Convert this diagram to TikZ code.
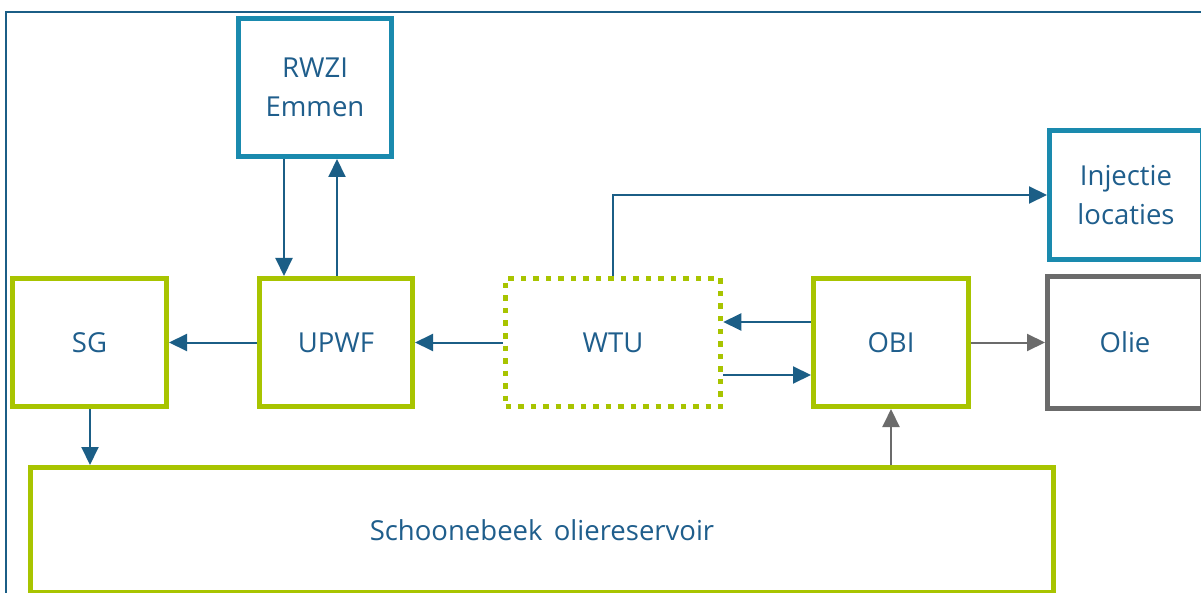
\documentclass[tikz,border=0pt]{standalone}
\usepackage{fontspec}
\setmainfont{Open Sans}
\usetikzlibrary{arrows.meta}
\definecolor{lime}{HTML}{A8C400}
\definecolor{tealb}{HTML}{1A8AAE}
\definecolor{navyb}{HTML}{1B5E86}
\definecolor{txtc}{HTML}{1F5E8C}
\definecolor{greyb}{HTML}{6B6B6B}
\begin{document}
\begin{tikzpicture}[x=1pt,y=-1pt,
  box/.style={draw, line width=5pt, rectangle, align=center, text=txtc,
    font=\fontsize{27.5}{39}\selectfont, inner sep=0pt},
  gbox/.style={box, draw=lime},
  tbox/.style={box, draw=tealb},
  obox/.style={box, draw=greyb},
  dbox/.style={box, draw=lime, line width=5.5pt, dash pattern=on 5.5pt off 7pt},
  arr/.style={draw=navyb, line width=2pt, -{Triangle[length=18pt,width=17pt]}},
  garr/.style={draw=greyb, line width=2pt, -{Triangle[length=18pt,width=17pt]}}]
\useasboundingbox (0,0) rectangle (1201,593);
\clip (0,0) rectangle (1201,593);
\fill[white] (0,0) rectangle (1201,593);
\draw[navyb, line width=1.5pt] (6,600) -- (6,12) -- (1210,12);

\node[tbox, minimum width=153pt, minimum height=138pt] (rwzi) at (315,87.5) {RWZI\\Emmen};
\node[tbox, minimum width=153pt, minimum height=129pt] (inj) at (1126,195) {Injectie\\locaties};
\node[obox, minimum width=155pt, minimum height=132pt] (olie) at (1125,342.5) {Olie};
\node[gbox, minimum width=154pt, minimum height=128pt] (sg) at (89.5,342.5) {SG};
\node[gbox, minimum width=153pt, minimum height=128pt] (upwf) at (336,342.5) {UPWF};
\node[dbox, minimum width=215pt, minimum height=128pt] (wtu) at (613,342.5) {WTU};
\node[gbox, minimum width=155pt, minimum height=128pt] (obi) at (891,342.5) {OBI};
\node[gbox, minimum width=1023pt, minimum height=125pt] (res) at (542,530) {Schoonebeek\hspace{0.15em} oliereservoir};

\draw[arr] ([xshift=-31pt]rwzi.south) -- ([xshift=-31pt]rwzi.south |- upwf.north);
\draw[arr] ([xshift=1pt]upwf.north) -- ([xshift=1pt]upwf.north |- rwzi.south);
\draw[arr] (wtu.north) -- (wtu.north |- inj.west) -- (inj.west);
\draw[arr] (upwf.west) -- (sg.east);
\draw[arr] (wtu.west) -- (upwf.east);
\draw[arr] ([yshift=20.5pt]obi.west) -- ([yshift=20.5pt]obi.west -| wtu.east);
\draw[arr] ([yshift=-32.5pt]wtu.east) -- ([yshift=-32.5pt]wtu.east -| obi.west);
\draw[garr] (obi.east) -- (olie.west);
\draw[arr] ([xshift=0.5pt]sg.south) -- ([xshift=0.5pt]sg.south |- res.north);
\draw[garr] (res.north -| obi.south) -- (obi.south);
\end{tikzpicture}
\end{document}
